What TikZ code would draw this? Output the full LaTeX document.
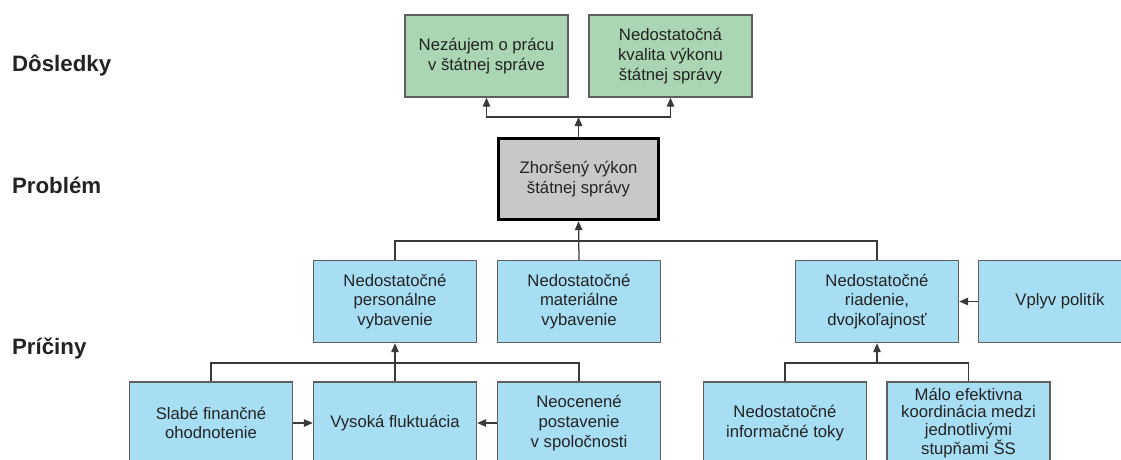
\documentclass[tikz,border=0pt]{standalone}
\usepackage{fontspec}
\setmainfont{Liberation Sans}
\usetikzlibrary{arrows.meta}
\definecolor{greenbox}{RGB}{170,214,180}
\definecolor{bluebox}{RGB}{168,222,244}
\definecolor{greybox}{RGB}{200,200,200}
\definecolor{edge}{RGB}{95,95,95}
\definecolor{ink}{RGB}{35,35,35}
\begin{document}
\begin{tikzpicture}[x=1pt,y=-1pt,
  box/.style={draw=edge,line width=1.4pt,text=ink,align=center,
    minimum width=163pt,minimum height=82pt,inner sep=0pt,
    font=\fontsize{16.7}{19.8}\selectfont},
  effect/.style={box,fill=greenbox},
  cause/.style={box,fill=bluebox},
  tight/.style={font=\fontsize{16.7}{17.2}\selectfont},
  problem/.style={box,fill=greybox,draw=black,line width=3.4pt,
    minimum width=160pt,minimum height=81pt},
  rowlabel/.style={anchor=west,text=ink,font=\fontsize{22.3}{25}\selectfont\bfseries},
  link/.style={draw=ink!90,line width=1.25pt},
  arr/.style={link,-{Triangle[length=9pt,width=7.5pt]}}]
\useasboundingbox (0,0) rectangle (1121,459);
\clip (0,0) rectangle (1121,459);

% row captions
\node[rowlabel] (ld) at (8.5,65) {Dôsledky};
\node[rowlabel] (lp) at (8.5,185) {Problém};
\node[rowlabel] (lc) at (8.5,348) {Príčiny};

% consequences
\node[effect] (c1) at (486.5,56) {Nezáujem o prácu\\v štátnej správe};
\node[effect] (c2) at (670.5,56) {Nedostatočná\\kvalita výkonu\\štátnej správy};

% core problem
\node[problem] (p) at (578.5,179) {Zhoršený výkon\\štátnej správy};

% causes, first level
\node[cause] (m1) at (395,301.5) {Nedostatočné\\personálne\\vybavenie};
\node[cause] (m2) at (579,301.5) {Nedostatočné\\materiálne\\vybavenie};
\node[cause] (m3) at (877,301.5) {Nedostatočné\\riadenie,\\dvojkoľajnosť};
\node[cause] (m4) at (1060,301.5) {Vplyv politík};

% causes, second level
\node[cause] (b1) at (211,423) {Slabé finančné\\ohodnotenie};
\node[cause] (b2) at (395,423) {Vysoká fluktuácia};
\node[cause] (b3) at (579,423) {Neocenené\\postavenie\\v spoločnosti};
\node[cause] (b4) at (785,423) {Nedostatočné\\informačné toky};
\node[cause,tight] (b5) at (968.5,423) {Málo efektivna\\koordinácia medzi\\jednotlivými\\stupňami ŠS};

% junction points
\coordinate (j1) at (578.5,117);
\coordinate (j2) at (579,241);
\coordinate (j3) at (395,363);
\coordinate (j4) at (877,363);

% problem -> consequences
\draw[arr] (p.north) -- (j1);
\draw[arr] (j1) -| (c1.south);
\draw[arr] (j1) -| (c2.south);

% first-level causes -> problem
\draw[link] (m1.north) |- (j2) -| (m3.north);
\draw[arr] (m2.north) -- (p.south);
\draw[arr] (m4.west) -- (m3.east);

% second-level causes -> personnel
\draw[link] (b1.north) |- (j3) -| (b3.north);
\draw[arr] (b2.north) -- (m1.south);
\draw[arr] (b1.east) -- (b2.west);
\draw[arr] (b3.west) -- (b2.east);

% second-level causes -> management
\draw[link] (b4.north) |- (j4) -| (b5.north);
\draw[arr] (j4) -- (m3.south);
\end{tikzpicture}
\end{document}
